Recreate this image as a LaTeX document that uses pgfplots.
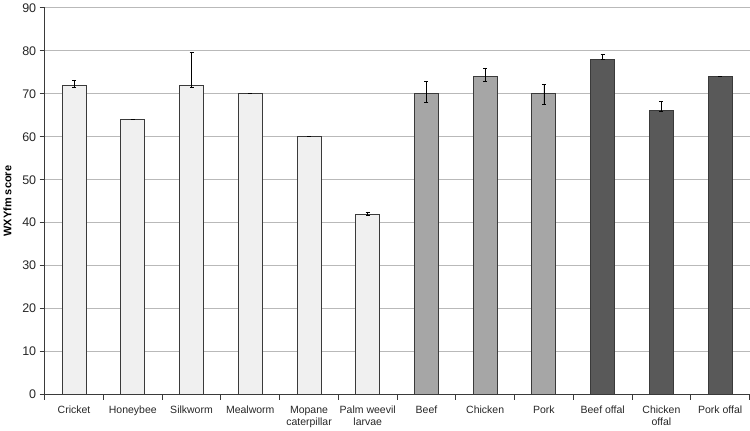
\documentclass[border=0pt]{standalone}
\usepackage{pgfplots}
\pgfplotsset{compat=1.18}
\usepackage{fontspec}
\setmainfont{Liberation Sans}
\definecolor{lightbar}{HTML}{F0F0F0}
\definecolor{midbar}{HTML}{A6A6A6}
\definecolor{darkbar}{HTML}{595959}
\definecolor{edge}{HTML}{3A3A3A}
\begin{document}
\begin{tikzpicture}
\begin{axis}[
  scale only axis,
  width=705pt, height=387pt,
  xmin=-0.5, xmax=11.5,
  ymin=0, ymax=90,
  ytick={0,10,...,90},
  xtick={0,...,11},
  xticklabels={Cricket, Honeybee, Silkworm, Mealworm, Mopane\\caterpillar, Palm weevil\\larvae, Beef, Chicken, Pork, Beef offal, Chicken\\offal, Pork offal},
  xticklabel style={align=center, font=\fontsize{10.5}{12}\selectfont, text=black!85, yshift=-3pt},
  yticklabel style={font=\fontsize{12.5}{14}\selectfont, text=black!85},
  /pgf/number format/assume math mode=true,
  major x tick style={draw=none},
  minor xtick={-0.5,0.5,...,11.5},
  minor tick length=5pt,
  major tick length=5pt,
  tick align=outside,
  minor x tick style={edge, line width=1pt},
  y tick style={edge, line width=1pt},
  axis x line*=bottom,
  axis y line*=left,
  axis line style={edge, line width=1pt, -},
  ymajorgrids,
  grid style={gray!55, line width=1pt},
  ylabel={\bfseries WXYfm score},
  ylabel style={font=\fontsize{11}{13}\selectfont, yshift=4pt},
  ybar, bar width=24pt, bar shift=0pt,
  error bars/y dir=both, error bars/y explicit,
  error bars/error mark options={rotate=90, mark size=2pt, line width=0.8pt, black},
  error bars/error bar style={line width=0.8pt, black},
]
\addplot[fill=lightbar, draw=edge, line width=1pt] coordinates {
  (0,72) += (0,1) -= (0,0.5)
  (1,64) += (0,0) -= (0,0)
  (2,72) += (0,7.6) -= (0,0.5)
  (3,70) += (0,0) -= (0,0)
  (4,60) += (0,0) -= (0,0)
  (5,42) += (0,0.5) -= (0,0.3)
};
\addplot[fill=midbar, draw=edge, line width=1pt] coordinates {
  (6,70) += (0,2.8) -= (0,2)
  (7,74) += (0,2) -= (0,1.1)
  (8,70) += (0,2.1) -= (0,2.4)
};
\addplot[fill=darkbar, draw=edge, line width=1pt] coordinates {
  (9,78) += (0,1.1) -= (0,0)
  (10,66) += (0,2.3) -= (0,0)
  (11,74) += (0,0) -= (0,0)
};
\end{axis}
\end{tikzpicture}
\end{document}
